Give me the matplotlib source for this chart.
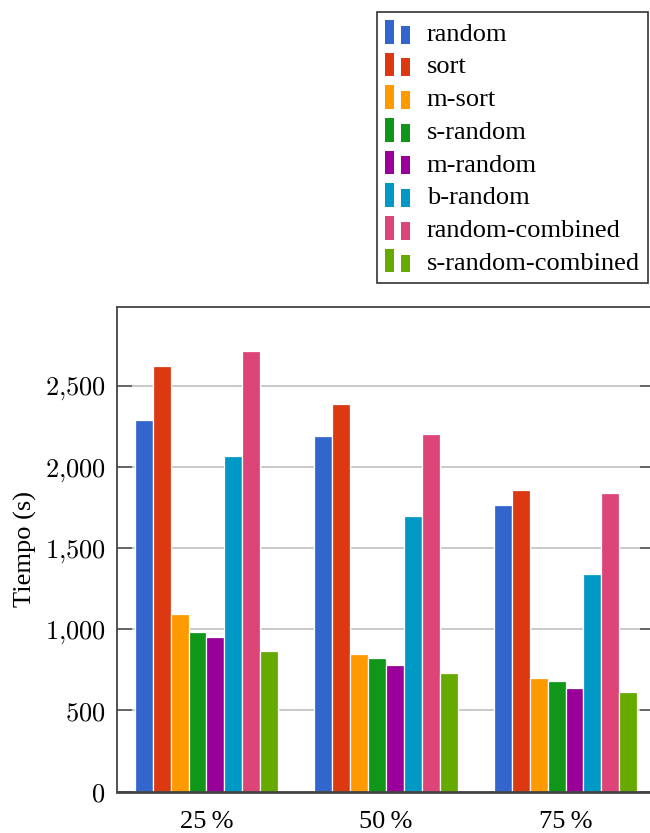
import matplotlib
matplotlib.use("Agg")
import matplotlib.pyplot as plt
from matplotlib.patches import Rectangle
from matplotlib.legend_handler import HandlerBase
import numpy as np

# Data
groups = ["25\u2009%", "50\u2009%", "75\u2009%"]
series = ["random", "sort", "m-sort", "s-random", "m-random",
          "b-random", "random-combined", "s-random-combined"]
random_t = [2285, 2190, 1765]
sort_t = [2618, 2389, 1855]
msort_t = [1091, 849, 699]
srandom_t = [982, 820, 683]
mrandom_t = [951, 777, 638]
brandom_t = [2066, 1696, 1337]
randcomb_t = [2715, 2200, 1839]
srandcomb_t = [865, 728, 613]
values = [random_t, sort_t, msort_t, srandom_t, mrandom_t,
          brandom_t, randcomb_t, srandcomb_t]
yticks = [0, 500, 1000, 1500, 2000, 2500]
ytick_labels = [r"$0$", r"$500$", r"$1{,}000$", r"$1{,}500$",
                r"$2{,}000$", r"$2{,}500$"]

colors = ["#3366CC", "#DC3912", "#FF9900", "#109618",
          "#990099", "#0099C6", "#DD4477", "#66AA00"]

plt.rcParams["mathtext.fontset"] = "cm"
serif = ["Liberation Serif", "DejaVu Serif"]
FS = 19

W, H = 650, 833
fig = plt.figure(figsize=(W / 100, H / 100), dpi=100)
left_px, right_px, top_px, bottom_px = 116.7, 655.3, 306.7, 791.7
ax = fig.add_axes([left_px / W, 1 - bottom_px / H,
                   (right_px - left_px) / W, (bottom_px - top_px) / H])

x = np.arange(len(groups))
bw = 0.1
for i, (name, vals) in enumerate(zip(series, values)):
    ax.bar(x + (i - 3.5) * bw, vals, width=bw, color=colors[i],
           edgecolor="white", linewidth=0.9, label=name, zorder=3)

ax.set_xlim(-0.5, 2.5)
ax.set_ylim(0, 2985)
ax.set_xticks(x)
ax.set_xticklabels(groups, fontsize=FS, family=serif)
ax.tick_params(axis="x", length=0, pad=14)
ax.set_yticks(yticks)
ax.set_yticklabels(ytick_labels, fontsize=FS)
ax.tick_params(axis="y", direction="in", length=11, width=1.2,
               color="#555555", right=True, pad=8)
ax.grid(axis="y", color="#c0c0c0", linewidth=1.2, zorder=0)
ax.set_axisbelow(True)
for s in ax.spines.values():
    s.set_color("#444444")
    s.set_linewidth(1.3)
ax.spines["bottom"].set_linewidth(2.0)
ax.spines["bottom"].set_zorder(4)

ax.set_ylabel("Tiempo (s)", fontsize=FS, family=serif)
ax.yaxis.set_label_coords(-0.148, 0.5)


class TwoBarHandler(HandlerBase):
    """Legend key drawn as a tall bar next to a shorter one."""

    def create_artists(self, legend, orig_handle, xdescent, ydescent,
                       width, height, fontsize, trans):
        c = orig_handle.get_facecolor()
        bw_ = width * 0.36
        y0 = -ydescent
        r1 = Rectangle((-xdescent, y0), bw_, height,
                       facecolor=c, edgecolor="none", transform=trans)
        r2 = Rectangle((-xdescent + width - bw_, y0), bw_,
                       height * 0.76, facecolor=c, edgecolor="none",
                       transform=trans)
        return [r1, r2]


handles = [Rectangle((0, 0), 1, 1, facecolor=c) for c in colors]
leg = fig.legend(handles, series, loc="upper left",
                 bbox_to_anchor=(377 / W, 1 - 12 / H),
                 handler_map={Rectangle: TwoBarHandler()},
                 prop={"family": serif, "size": FS},
                 handlelength=0.95, handleheight=1.0,
                 handletextpad=0.64, labelspacing=0.26,
                 borderpad=0.3, borderaxespad=0.0,
                 fancybox=False, framealpha=1, edgecolor="#333333")
leg.get_frame().set_linewidth(1.2)

fig.savefig("out.png", dpi=100)
